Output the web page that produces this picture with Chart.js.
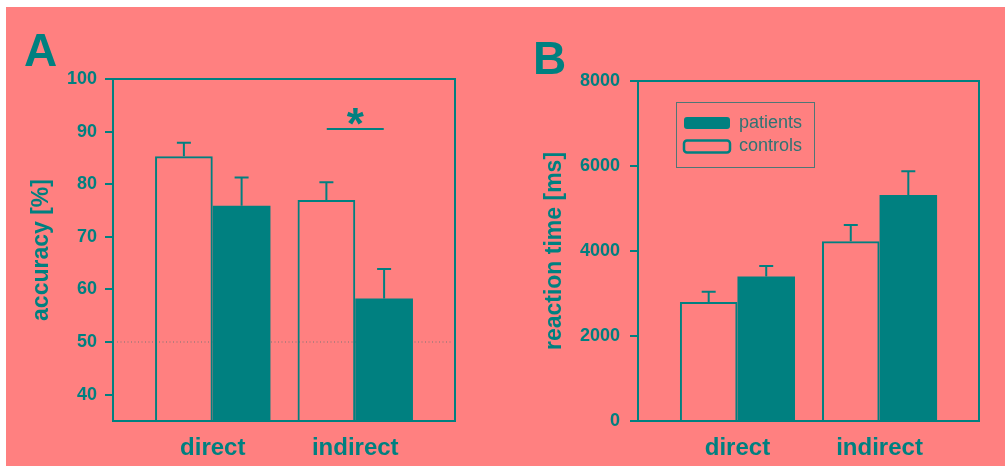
<!DOCTYPE html>
<html lang="en">
<head>
<meta charset="UTF-8" />
<title>Accuracy and reaction time</title>
<script src="https://cdn.jsdelivr.net/npm/chart.js"></script>
<style>
  * { box-sizing: border-box; }
  body {
    margin: 0;
    width: 1005px;
    height: 466px;
    overflow: hidden;
    position: relative;
    background: #fff;
    font-family: Arial, "Liberation Sans", sans-serif;
  }
  .panel-bg {
    position: absolute;
    left: 6px; top: 7px; right: 0; bottom: 0;
    background: #ff8080;
  }
  #accChart { position: absolute; left: 0; top: 0; }
  #rtChart { position: absolute; left: 500px; top: 0; }
</style>
</head>
<body>
<div class="panel-bg"></div>
<canvas id="accChart" width="500" height="466"></canvas>
<canvas id="rtChart" width="505" height="466"></canvas>

<script>
const categories = ['direct', 'indirect'];

// panel A: accuracy [%], mean and upper error
const accControls = [85.3, 77.0];
const accControlsErr = [2.6, 3.4];
const accPatients = [75.9, 58.3];
const accPatientsErr = [5.4, 5.6];
const accTicks = [40, 50, 60, 70, 80, 90, 100];
const chanceLevel = 50;
const sigCategory = 1;
const sigLevel = 90.5;

// panel B: reaction time [ms]
const rtControls = [2800, 4230];
const rtControlsErr = [240, 380];
const rtPatients = [3400, 5320];
const rtPatientsErr = [250, 555];
const rtTicks = [0, 2000, 4000, 6000, 8000];

const TEAL = '#008080';
const FONT = 'Arial, "Liberation Sans", sans-serif';

Chart.defaults.font.family = FONT;
Chart.defaults.color = TEAL;

// upward error bars with a small cap
const errorBars = {
  id: 'errorBars',
  afterDatasetsDraw(chart) {
    const ctx = chart.ctx;
    const y = chart.scales.y;
    ctx.save();
    ctx.strokeStyle = TEAL;
    ctx.lineWidth = 2;
    chart.data.datasets.forEach((ds, di) => {
      chart.getDatasetMeta(di).data.forEach((bar, i) => {
        const top = y.getPixelForValue(ds.data[i] + ds.errors[i]);
        ctx.beginPath();
        ctx.moveTo(bar.x, bar.y);
        ctx.lineTo(bar.x, top);
        ctx.moveTo(bar.x - 7, top);
        ctx.lineTo(bar.x + 7, top);
        ctx.stroke();
      });
    });
    ctx.restore();
  }
};

// box around the plot area
const frame = {
  id: 'frame',
  afterDatasetsDraw(chart) {
    const { ctx, chartArea: a } = chart;
    ctx.save();
    ctx.strokeStyle = TEAL;
    ctx.lineWidth = 2;
    ctx.strokeRect(a.left, a.top, a.right - a.left, a.bottom - a.top);
    ctx.restore();
  }
};

// dotted chance level behind the bars
const chanceLine = {
  id: 'chanceLine',
  beforeDatasetsDraw(chart, args, opts) {
    const { ctx, chartArea: a, scales: { y } } = chart;
    const py = y.getPixelForValue(opts.value);
    ctx.save();
    ctx.strokeStyle = 'rgba(0,110,110,0.35)';
    ctx.lineWidth = 1.5;
    ctx.setLineDash([1, 2.5]);
    ctx.beginPath();
    ctx.moveTo(a.left + 4, py);
    ctx.lineTo(a.right - 4, py);
    ctx.stroke();
    ctx.restore();
  }
};

// significance bar with asterisk
const sigBar = {
  id: 'sigBar',
  afterDatasetsDraw(chart, args, opts) {
    const { ctx, scales: { x, y } } = chart;
    const py = y.getPixelForValue(opts.level);
    const x0 = x.getPixelForValue(opts.category - 0.2);
    const x1 = x.getPixelForValue(opts.category + 0.2);
    ctx.save();
    ctx.strokeStyle = TEAL;
    ctx.lineWidth = 2;
    ctx.beginPath();
    ctx.moveTo(x0, py);
    ctx.lineTo(x1, py);
    ctx.stroke();
    ctx.fillStyle = TEAL;
    ctx.font = 'bold 44px ' + FONT;
    ctx.textAlign = 'center';
    ctx.textBaseline = 'alphabetic';
    ctx.fillText('*', (x0 + x1) / 2, py + 10);
    ctx.restore();
  }
};

// framed legend inside the plot area
const boxLegend = {
  id: 'boxLegend',
  afterDraw(chart) {
    const { ctx, chartArea: a } = chart;
    const left = a.left + 38, top = a.top + 21, w = 138, h = 65;
    ctx.save();
    ctx.strokeStyle = '#4f7676';
    ctx.lineWidth = 1;
    ctx.strokeRect(left + 0.5, top + 0.5, w, h);
    chart.data.datasets.slice().reverse().forEach((ds, i) => {
      const sy = top + 14 + i * 23.5;
      ctx.beginPath();
      if (ctx.roundRect) ctx.roundRect(left + 8, sy + 1, 46, 12, 3);
      else ctx.rect(left + 8, sy + 1, 46, 12);
      if (ds.backgroundColor === TEAL) {
        ctx.fillStyle = TEAL;
        ctx.fill();
      } else {
        ctx.strokeStyle = TEAL;
        ctx.lineWidth = 2.5;
        ctx.stroke();
      }
      ctx.fillStyle = '#2f7373';
      ctx.font = '18px ' + FONT;
      ctx.textAlign = 'left';
      ctx.textBaseline = 'middle';
      ctx.fillText(ds.label, left + 63, sy + 7);
    });
    ctx.restore();
  }
};

// big panel letter
const panelLetter = {
  id: 'panelLetter',
  afterDraw(chart, args, opts) {
    const ctx = chart.ctx;
    ctx.save();
    ctx.fillStyle = TEAL;
    ctx.font = 'bold 46px ' + FONT;
    ctx.textAlign = 'left';
    ctx.textBaseline = 'alphabetic';
    ctx.fillText(opts.text, opts.x, opts.y);
    ctx.restore();
  }
};

function makePanel(id, cfg) {
  return new Chart(document.getElementById(id), {
    type: 'bar',
    data: {
      labels: categories.map((_, i) => i),
      datasets: [
        {
          label: 'controls',
          data: cfg.controls,
          errors: cfg.controlsErr,
          backgroundColor: 'rgba(0,0,0,0)',
          borderColor: TEAL,
          borderWidth: 2
        },
        {
          label: 'patients',
          data: cfg.patients,
          errors: cfg.patientsErr,
          backgroundColor: TEAL,
          borderWidth: 0
        }
      ]
    },
    options: {
      responsive: false,
      animation: false,
      devicePixelRatio: 1,
      events: [],
      categoryPercentage: 0.81,
      barPercentage: 1,
      layout: { padding: { top: cfg.top, right: cfg.right, left: 0, bottom: 0 } },
      scales: {
        x: {
          type: 'linear',
          min: -0.7,
          max: 1.7,
          offset: false,
          afterBuildTicks: s => { s.ticks = categories.map((_, i) => ({ value: i })); },
          afterFit: s => { s.height = 45; },
          grid: { display: false, drawTicks: false, offset: false },
          border: { display: false },
          ticks: {
            padding: 13,
            maxRotation: 0,
            color: TEAL,
            font: { size: 24, weight: 'bold' },
            callback: v => categories[v]
          }
        },
        y: {
          min: cfg.min,
          max: cfg.max,
          afterBuildTicks: s => { s.ticks = cfg.ticks.map(v => ({ value: v })); },
          afterFit: s => { s.width = cfg.axisWidth; },
          grid: { drawOnChartArea: false, drawTicks: true, tickLength: 8, color: TEAL, lineWidth: 2 },
          border: { display: false },
          ticks: {
            padding: cfg.tickPad,
            color: TEAL,
            font: { size: 18, weight: 'bold' },
            callback: v => String(v)
          },
          title: {
            display: true,
            text: cfg.title,
            color: TEAL,
            font: { size: 23, weight: 'bold' },
            padding: { top: cfg.titlePad, bottom: 0 }
          }
        }
      },
      plugins: {
        legend: { display: false },
        tooltip: { enabled: false },
        chanceLine: { value: chanceLevel },
        sigBar: { category: sigCategory, level: sigLevel },
        panelLetter: cfg.letter
      }
    },
    plugins: cfg.plugins
  });
}

makePanel('accChart', {
  controls: accControls, controlsErr: accControlsErr,
  patients: accPatients, patientsErr: accPatientsErr,
  min: 35, max: 100, ticks: accTicks,
  title: 'accuracy [%]',
  top: 79, right: 45, axisWidth: 113, tickPad: 8, titlePad: 28,
  letter: { text: 'A', x: 24, y: 66 },
  plugins: [chanceLine, errorBars, frame, sigBar, panelLetter]
});

makePanel('rtChart', {
  controls: rtControls, controlsErr: rtControlsErr,
  patients: rtPatients, patientsErr: rtPatientsErr,
  min: 0, max: 8000, ticks: rtTicks,
  title: 'reaction time [ms]',
  top: 81, right: 26, axisWidth: 138, tickPad: 10, titlePad: 41,
  letter: { text: 'B', x: 33, y: 74 },
  plugins: [errorBars, frame, boxLegend, panelLetter]
});
</script>
</body>
</html>
